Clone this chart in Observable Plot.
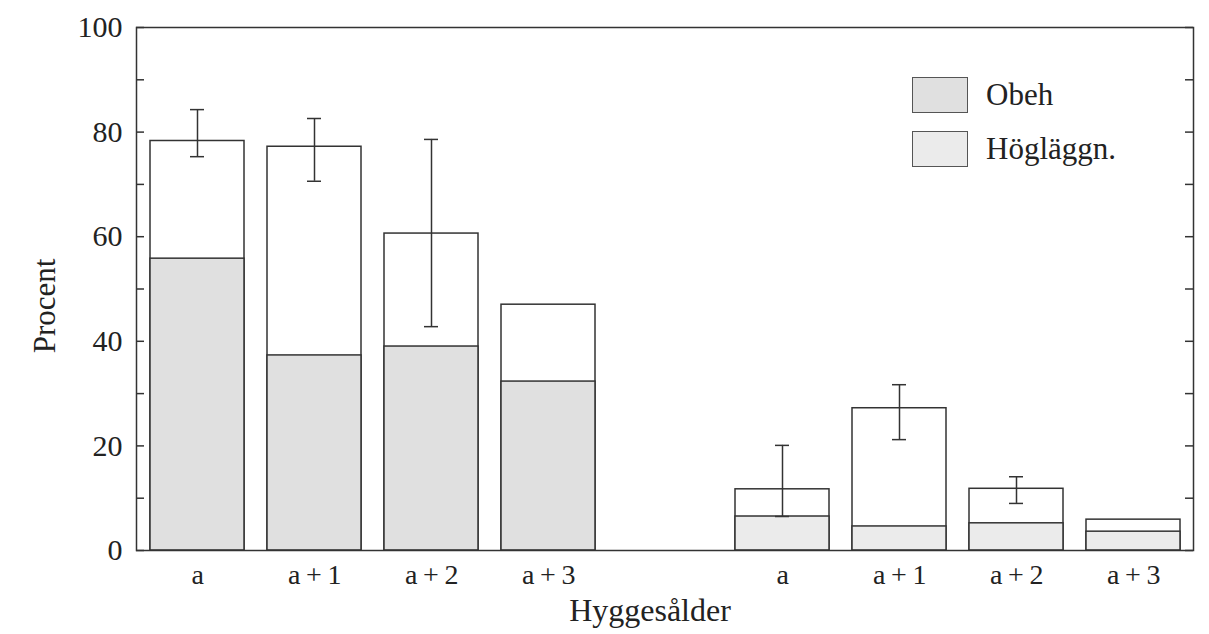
<!DOCTYPE html>
<html>
<head>
<meta charset="utf-8">
<script src="https://cdn.jsdelivr.net/npm/d3@7"></script>
<script src="https://cdn.jsdelivr.net/npm/@observablehq/plot@0.6"></script>
<style>
  body { margin: 0; background: #fff; }
  #chart { position: relative; width: 1209px; height: 634px; font-family: "Liberation Serif", "Times New Roman", serif; color: #222; }
  #chart svg g[aria-label="x-axis tick label"] text { letter-spacing: 0.2em; }
  .legend { position: absolute; left: 912px; top: 77px; }
  .legend .row { display: flex; align-items: center; height: 36px; margin-bottom: 18px; }
  .legend .sw { width: 54px; height: 34px; border: 1.5px solid #555; box-sizing: content-box; }
  .legend .lab { margin-left: 18px; font-size: 31px; line-height: 36px; }
</style>
</head>
<body>
<div id="chart"></div>
<script>
// Slots along the x axis; "gap" is the empty slot between the two groups.
const slots = ["g1:a", "g1:a+1", "g1:a+2", "g1:a+3", "gap", "g2:a", "g2:a+1", "g2:a+2", "g2:a+3"];
const tickLabels = ["a", "a+1", "a+2", "a+3", "", "a", "a+1", "a+2", "a+3"];
const barSlots = ["g1:a", "g1:a+1", "g1:a+2", "g1:a+3", "g2:a", "g2:a+1", "g2:a+2", "g2:a+3"];
const barGroups = ["Obeh", "Obeh", "Obeh", "Obeh", "Högläggn.", "Högläggn.", "Högläggn.", "Högläggn."];
// Whole bar height (percent) and the shaded lower part
const totals = [78.3, 77.2, 60.6, 47.0, 11.7, 27.2, 11.8, 5.9];
const lowerParts = [55.8, 37.3, 39.0, 32.3, 6.5, 4.6, 5.2, 3.6];
// Error bar ends (null = no error bar)
const errLow = [75.3, 70.6, 42.8, null, 6.5, 21.2, 9.0, null];
const errHigh = [84.3, 82.6, 78.6, null, 20.1, 31.7, 14.1, null];
const yLabels = [0, 20, 40, 60, 80, 100];
const yMinorTicks = [0, 10, 20, 30, 40, 50, 60, 70, 80, 90, 100];
const seriesNames = ["Obeh", "Högläggn."];
const seriesFills = ["#e0e0e0", "#ebebeb"];

const bars = barSlots.map((slot, i) => ({
  slot, group: barGroups[i], total: totals[i], lower: lowerParts[i], lo: errLow[i], hi: errHigh[i]
}));
const errs = bars.filter(d => d.lo != null && d.hi != null);
const labelOf = new Map(slots.map((s, i) => [s, tickLabels[i]]));
const fillOf = new Map(seriesNames.map((s, i) => [s, seriesFills[i]]));

const W = 1209, H = 634;
const mL = 136, mR = 16, mT = 27, mB = 84;
const frameW = W - mL - mR;
const ink = "#333";

const plot = Plot.plot({
  width: W, height: H,
  marginLeft: mL, marginRight: mR, marginTop: mT, marginBottom: mB,
  style: { fontFamily: "'Liberation Serif', 'Times New Roman', serif", fontSize: "30px", color: "#222", background: "white" },
  x: { domain: slots, paddingInner: 0.2, paddingOuter: 0.1, label: null },
  y: { domain: [0, 100], label: null },
  marks: [
    // full bar (unshaded upper part)
    Plot.barY(bars, { x: "slot", y: "total", fill: "white", stroke: ink, strokeWidth: 1.5 }),
    // shaded lower part
    Plot.barY(bars, { x: "slot", y: "lower", fill: d => fillOf.get(d.group), stroke: ink, strokeWidth: 1.5 }),
    // error bars
    Plot.ruleX(errs, { x: "slot", y1: "lo", y2: "hi", stroke: ink, strokeWidth: 1.5 }),
    Plot.tickY(errs, { x: "slot", y: "lo", stroke: ink, strokeWidth: 1.5, insetLeft: 40, insetRight: 40 }),
    Plot.tickY(errs, { x: "slot", y: "hi", stroke: ink, strokeWidth: 1.5, insetLeft: 40, insetRight: 40 }),
    // inward ticks on both sides of the frame
    Plot.tickY(yMinorTicks, { y: d => d, stroke: ink, strokeWidth: 1.5, insetRight: frameW - 8 }),
    Plot.tickY(yMinorTicks, { y: d => d, stroke: ink, strokeWidth: 1.5, insetLeft: frameW - 8 }),
    Plot.frame({ stroke: ink, strokeWidth: 1.5 }),
    Plot.axisY({ ticks: yLabels, tickSize: 0, tickPadding: 14, label: null, fontSize: 30 }),
    Plot.axisX({ ticks: barSlots, tickSize: 0, tickPadding: 14, dx: 3, tickFormat: s => labelOf.get(s), label: null, fontSize: 28 }),
    Plot.text(["Procent"], { frameAnchor: "left", textAnchor: "middle", rotate: -90, dx: -91, dy: 17, fontSize: 31, fill: "#222" }),
    Plot.text(["Hyggesålder"], { frameAnchor: "bottom", dx: -15, dy: 70, fontSize: 32, fill: "#222" })
  ]
});

const chart = document.getElementById("chart");
chart.appendChild(plot);

// legend inside the plot area
const legend = document.createElement("div");
legend.className = "legend";
seriesNames.forEach((name, i) => {
  const row = document.createElement("div");
  row.className = "row";
  const sw = document.createElement("div");
  sw.className = "sw";
  sw.style.background = seriesFills[i];
  const lab = document.createElement("span");
  lab.className = "lab";
  lab.textContent = name;
  row.appendChild(sw);
  row.appendChild(lab);
  legend.appendChild(row);
});
chart.appendChild(legend);
</script>
</body>
</html>
